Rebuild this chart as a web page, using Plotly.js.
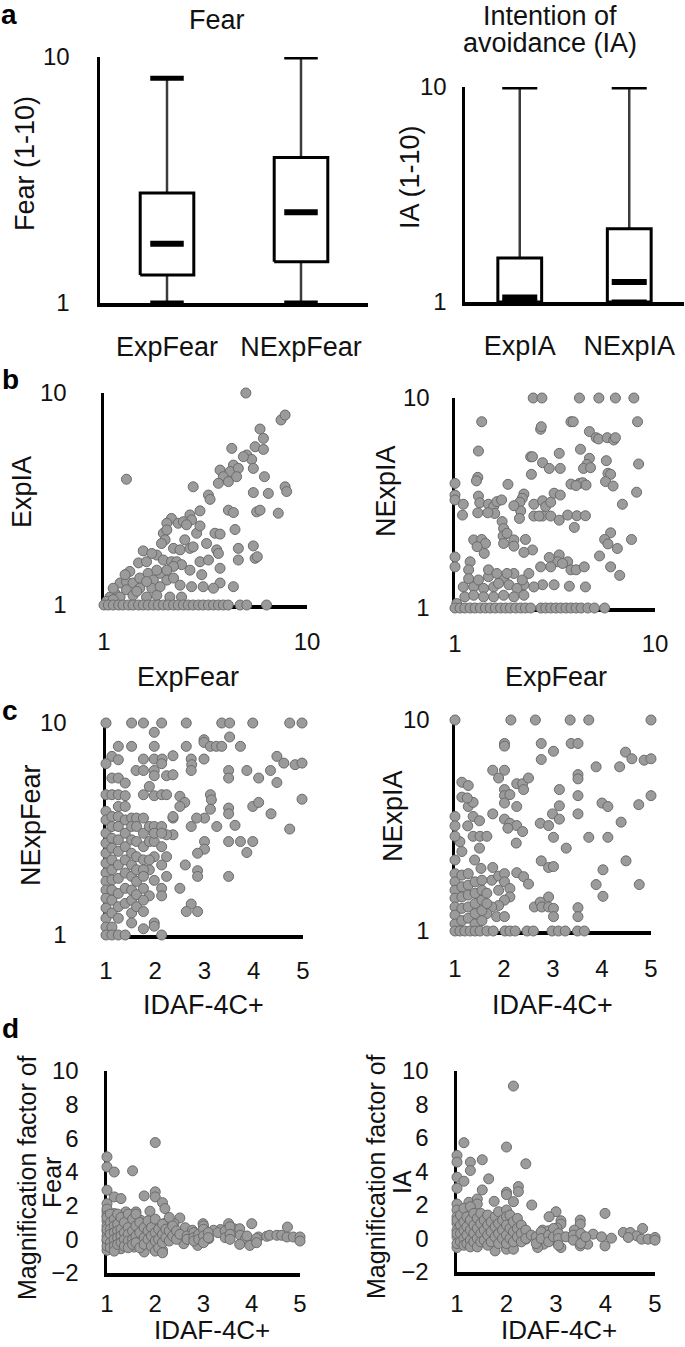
<!DOCTYPE html>
<html>
<head>
<meta charset="utf-8">
<script src="https://cdn.plot.ly/plotly-3.0.1.min.js"></script>
<style>html,body{margin:0;padding:0;background:#fff;}#chart{width:685px;height:1347px;}</style>
</head>
<body>
<div id="chart"></div>
<script>
// ---------------- DATA ----------------
// Panel a: box summaries (log scale 1-10)
const fearCats = ['ExpFear', 'NExpFear'];
const fearMin = [1, 1];
const fearQ1 = [1.30, 1.47];
const fearMedian = [1.74, 2.34];
const fearQ3 = [2.80, 3.90];
const fearMax = [8.2, 10];

const iaCats = ['ExpIA', 'NExpIA'];
const iaMin = [1, 1];
const iaQ1 = [1, 1];
const iaMedian = [1.05, 1.24];
const iaQ3 = [1.60, 2.19];
const iaMax = [10, 10];

// Panel b left: [ExpFear, ExpIA]
const expFearVsExpIA = [[5.0,10],[7.45,7.46],[7.8,7.87],[5.87,6.76],[6.1,6.11],[5.55,5.58],[6.1,5.42],[4.26,5.48],[5.05,5.1],[5.34,4.86],[4.86,5.01],[5.44,4.41],[4.34,4.57],[4.18,4.26],[4.59,4.41],[3.73,4.33],[3.87,4.03],[3.66,3.75],[4.1,3.82],[4.5,4.03],[6.17,4.03],[1.29,3.92],[2.75,3.61],[3.27,3.3],[3.33,3.15],[5.44,3.39],[6.45,3.36],[7.8,3.61],[7.94,3.43],[4.1,2.8],[4.34,2.73],[5.65,2.75],[5.87,2.8],[7.22,2.71],[2.97,2.78],[2.65,2.66],[2.7,2.52],[2.15,2.56],[2.04,2.43],[2.32,2.43],[2.46,2.47],[2.55,2.39],[2.86,2.18],[2.97,2.36],[4.42,2.27],[3.52,2.18],[3.73,2.16],[1.96,2.18],[2.04,2.26],[2.0,2.03],[1.92,1.95],[2.2,1.85],[2.37,1.82],[2.5,2.03],[2.65,1.85],[2.75,1.88],[3.2,1.95],[3.59,1.82],[3.66,1.75],[4.59,1.85],[5.44,1.9],[5.55,1.66],[5.69,1.69],[4.59,1.63],[1.56,1.8],[1.48,1.58],[1.62,1.6],[1.82,1.72],[1.96,1.63],[2.15,1.6],[2.28,1.6],[2.97,1.6],[3.27,1.63],[3.73,1.49],[3.03,1.39],[2.65,1.46],[2.41,1.55],[2.2,1.52],[3.73,1.27],[4.34,1.22],[3.46,1.2],[3.08,1.22],[2.7,1.22],[1.34,1.44],[1.2,1.27],[1.29,1.29],[1.39,1.27],[1.5,1.34],[1.65,1.41],[1.75,1.31],[1.89,1.41],[2.04,1.31],[2.2,1.34],[2.37,1.24],[1.72,1.2],[1.89,1.22],[1.5,1.2],[1.29,1.18],[1.13,1.14],[1.07,1.09],[1.2,1.09],[1.39,1.11],[1.62,1.09],[1.82,1.11],[2.11,1.09],[2.41,1.09],[1.62,1.29],[1.45,1.16],[1.27,1.39],[1.82,1.46],[2.04,1.46],[1.11,1.2],[1.03,1.04],[1.11,1.06],[1.72,1.75],
[1,1],[1.05,1],[1.11,1],[1.18,1],[1.24,1],[1.32,1],[1.39,1],[1.48,1],[1.56,1],[1.65,1],[1.75,1],[1.85,1],[1.96,1],[2.07,1],[2.2,1],[2.32,1],[2.46,1],[2.6,1],[2.75,1],[2.92,1],[3.08,1],[3.27,1],[3.46,1],[3.66,1],[3.87,1],[4.09,1],[4.68,1],[5.05,1],[6.32,1]];

// Panel b right: [ExpFear, NExpIA]
const expFearVsNExpIA = [[2.46,10],[2.72,10],[4.19,10],[5.24,10],[6.34,10],[7.84,10],[1.36,7.71],[2.68,7.1],[2.7,7.3],[3.8,7.71],[3.9,7.71],[8.18,7.71],[4.7,6.92],[5.08,6.47],[5.22,6.38],[5.77,6.47],[6.22,6.31],[6.34,6.47],[1.31,5.59],[2.39,5.25],[2.44,5.25],[3.32,5.45],[2.74,4.92],[2.96,4.62],[3.36,4.62],[4.24,5.7],[4.7,5.16],[4.57,4.83],[4.39,4.62],[4.76,4.66],[5.71,5.03],[8.28,4.85],[2.41,4.33],[1.3,4.19],[1.28,4.03],[5.82,4.38],[6.0,4.33],[5.66,4.0],[6.17,3.81],[3.8,3.89],[4.19,3.92],[4.35,3.95],[4.52,3.85],[4.03,3.83],[1,3.92],[1,3.45],[1,3.27],[1.84,3.88],[2.21,3.49],[2.17,3.33],[8.09,3.56],[1.1,3.12],[1.09,2.77],[1.31,3.41],[1.33,3.17],[1.3,2.84],[1.47,3.12],[1.56,3.04],[1.62,3.21],[1.71,3.27],[1.58,2.82],[1.46,2.84],[2.11,3.19],[2.13,2.9],[2.1,2.67],[1.97,3.07],[2.48,3.12],[2.74,3.24],[2.84,3.04],[3.01,3.19],[3.13,3.52],[3.36,3.45],[2.74,2.74],[3.01,2.74],[3.32,2.62],[3.66,2.77],[4.07,2.75],[4.49,2.75],[2.48,2.74],[2.63,2.74],[3.95,2.42],[6.87,3.12],[1.72,2.58],[1.75,2.39],[1.74,2.2],[1.82,2.27],[1.97,2.11],[2.25,2.12],[1.75,2.03],[1.97,1.97],[1.24,2.11],[1.36,2.12],[1.42,2.03],[1.4,1.82],[1.29,1.96],[1,1.75],[1,1.57],[1.19,1.66],[1.17,1.52],[2.44,1.89],[2.21,1.84],[3.32,1.79],[3.26,1.66],[2.96,1.74],[2.68,1.57],[3.01,1.57],[3.66,1.66],[3.45,1.63],[3.8,1.52],[4.03,1.52],[4.43,1.57],[6.0,2.28],[5.6,2.12],[5.82,2.02],[6.48,1.92],[7.63,2.12],[5.28,1.77],[6.0,1.57],[6.66,1.43],[3.73,1.27],[4.49,1.26],[3.13,1.29],[2.74,1.29],[2.21,1.29],[1.75,1.38],[1.1,1.26],[1.17,1.38],[1.24,1.26],[1.31,1.36],[1.39,1.24],[1.47,1.41],[1.56,1.26],[1.65,1.31],[1.86,1.29],[1.97,1.46],[2.04,1.24],[1.12,1.13],[1.24,1.15],[1.39,1.13],[1.56,1.13],[1.75,1.15],[1.97,1.13],[2.21,1.15],[2.48,1.26],[1.47,1.52],[1.62,1.46],[1.82,1.46],[2.17,1.36],[2.34,1.46],[1.02,1.05],
[1,1],[1.06,1],[1.12,1],[1.19,1],[1.26,1],[1.34,1],[1.42,1],[1.5,1],[1.59,1],[1.69,1],[1.79,1],[1.89,1],[2.01,1],[2.13,1],[2.25,1],[2.39,1],[2.69,1],[2.84,1],[3.01,1],[3.19,1],[3.38,1],[3.59,1],[3.8,1],[4.03,1],[4.27,1],[4.61,1],[4.98,1],[5.6,1]];

// Panel c left: [IDAF-4C+, NExpFear]
const idafVsNExpFear = [[1,10],[1.52,10],[1.76,10],[2.13,10],[2.63,10],[3.35,10],[3.51,10],[3.98,10],[4.73,10],[4.98,10],[1.98,9.04],[1.25,7.76],[1.52,7.76],[1.98,7.76],[2.63,7.76],[2.99,8.34],[2.99,8.1],[3.12,7.76],[3.24,7.76],[3.35,7.76],[3.51,8.59],[3.73,7.76],[1.12,6.96],[1,6.43],[1.25,6.71],[1.76,6.76],[1.98,6.76],[2.14,6.76],[2.13,6.43],[2.36,7.01],[2.73,6.76],[2.74,6.36],[2.73,5.97],[2.99,6.76],[4.47,6.96],[4.61,6.47],[4.84,6.36],[4.98,6.47],[1.61,5.97],[1.76,5.97],[1.98,5.97],[1.98,5.64],[2.23,5.64],[2.36,5.7],[1.12,5.5],[1.25,5.5],[1.39,5.21],[3.49,5.97],[3.49,5.5],[3.86,5.97],[4.1,5.5],[4.34,5.97],[4.47,5.24],[1,4.59],[1.12,4.59],[1.25,4.59],[1.39,4.54],[1.76,4.59],[1.88,5.02],[1.98,4.54],[2.13,4.59],[2.23,4.59],[2.5,4.51],[2.6,4.22],[2.5,4.04],[3.12,4.59],[3.14,4.34],[3.49,3.97],[3.49,3.73],[3.98,4.04],[4.1,4.22],[4.35,3.73],[4.73,3.16],[4.98,4.37],[3.12,3.92],[3.0,3.56],[2.84,3.56],[2.73,3.25],[3.25,3.25],[3.62,3.29],[2.36,3.56],[2.36,2.97],[2.23,2.97],[3.0,2.76],[3.0,2.54],[2.86,2.43],[2.86,2.01],[2.86,1.89],[2.61,2.14],[3.49,2.76],[3.73,2.76],[3.98,2.76],[3.86,2.45],[3.49,1.89],[2.5,1.66],[2.73,1.4],[2.63,1.29],[2.86,1.29],[1.98,2.34],[1.98,1.81],[2.13,1.66],[2.13,1.53],[2.23,1.89],[2.23,2.34],[1.88,2.03],[1.88,1.53],[1.76,1.07],[1.98,1.14],[1.98,1.1],[2.13,1],
[1,3.83],[1,3.49],[1,3.02],[1,2.71],[1,2.43],[1,2.18],[1,1.96],[1,1.79],[1,1.63],[1,1.49],[1,1.34],[1,1.2],[1,1.09],[1,1],
[1.12,3.62],[1.12,3.25],[1.12,2.86],[1.12,2.57],[1.12,2.26],[1.12,2.03],[1.12,1.82],[1.12,1.63],[1.12,1.46],[1.12,1.27],[1.12,1.09],[1.12,1],
[1.25,4.04],[1.25,3.62],[1.25,3.25],[1.25,2.81],[1.25,2.48],[1.25,2.14],[1.25,1.85],[1.25,1.57],[1.25,1.36],[1.25,1.2],[1.25,1],
[1.39,4.04],[1.39,3.49],[1.39,3.02],[1.39,2.61],[1.39,2.26],[1.39,1.96],[1.39,1.66],[1.39,1.41],[1.39,1],
[1.52,3.56],[1.52,3.25],[1.52,2.81],[1.52,2.43],[1.52,2.14],[1.52,1.89],[1.52,1.63],[1.52,1.46],[1.52,1.27],[1.52,1.14],
[1.62,3.56],[1.62,3.25],[1.62,2.76],[1.62,2.34],[1.62,2.03],[1.62,1.79],[1.62,1.55],[1.62,1.36],
[1.76,3.56],[1.76,3.02],[1.76,2.61],[1.76,2.26],[1.76,2.03],[1.76,1.89],[1.76,1.66],[1.76,1.46],[1.76,1.29],
[1.88,3.25],[1.88,2.76],[1.88,2.26],[1.98,3.25],[1.98,2.76],[1.98,3.02],[2.13,3.25],[2.13,3.02],[2.13,2.61],[2.13,2.14],[2.36,3.62]];

// Panel c right: [IDAF-4C+, NExpIA]
const idafVsNExpIA = [[1,10],[2.14,10],[2.64,10],[3.35,10],[3.73,10],[5,10],[2.01,7.74],[2.01,7.52],[2.76,7.74],[3.01,7.11],[3.37,7.74],[3.51,7.74],[2.76,6.5],[4.48,7.04],[4.61,6.55],[4.86,6.45],[5.0,6.55],[4.36,6.0],[3.88,6.0],[1.77,5.78],[1.89,5.31],[2.01,5.78],[3.51,5.51],[3.51,5.26],[1.14,5.07],[1.27,4.89],[1.14,4.31],[1.27,3.89],[1.37,4.07],[2.26,4.99],[2.38,4.99],[2.5,5.31],[2.4,4.68],[2.01,4.68],[2.01,4.38],[2.01,4.04],[2.12,4.43],[2.26,3.89],[3.13,4.68],[3.13,3.92],[2.99,3.59],[3.13,3.39],[3.51,4.38],[3.51,3.59],[4.0,4.04],[4.12,3.89],[4.75,3.97],[5.0,4.38],[2.74,3.24],[2.91,3.16],[3.01,2.78],[3.27,2.47],[3.73,2.78],[4.12,2.78],[4.39,3.28],[1.77,3.59],[2.01,3.39],[2.12,3.24],[2.26,3.16],[2.38,2.96],[2.08,3.07],[2.25,2.61],[2.76,2.15],[2.91,2.0],[3.01,2.02],[4.02,1.95],[4.49,2.15],[4.76,1.66],[3.88,1.66],[4.02,1.46],[1.25,4.27],[1.37,3.49],[1.5,3.33],[1.26,3.15],[1.37,2.81],[1.51,2.81],[1.65,2.81],[1.5,2.47],[1.4,2.17],[1.53,1.98],[1.1,2.65],[1.14,2.38],[1,3.49],[1,3.15],[1,2.81],[1,2.17],[1.77,2.0],[1.75,1.74],[1.89,1.82],[2.01,1.87],[2.01,1.71],[1.89,1.56],[2.12,1.59],[2.12,1.45],[2.01,1.4],[1.89,1.32],[2.26,1.89],[2.4,1.81],[2.5,1.67],[1.75,1.3],[1.65,1.21],[1.85,1.17],[2.01,1.17],[2.62,1.3],[2.74,1.37],[2.77,1.3],[2.91,1.45],[2.91,1.3],[3.01,1.28],[3.01,1.17],[3.51,1.29],[3.51,1.17],
[1,1.87],[1,1.71],[1,1.56],[1,1.43],[1,1.3],[1,1.19],[1,1.08],[1.14,1.84],[1.14,1.62],[1.14,1.45],[1.14,1.28],[1.14,1.12],[1.27,1.87],[1.27,1.65],[1.27,1.48],[1.27,1.3],[1.27,1.15],[1.41,1.71],[1.41,1.51],[1.41,1.35],[1.41,1.21],[1.41,1.08],[1.55,1.74],[1.55,1.56],[1.55,1.4],[1.55,1.25],[1.55,1.12],[1.65,1.51],[1.65,1.35],
[1,1],[1.1,1],[1.2,1],[1.31,1],[1.41,1],[1.51,1],[1.65,1],[1.78,1],[2.02,1],[2.12,1],[2.23,1],[2.47,1],[2.6,1],[2.98,1],[3.11,1],[3.25,1],[3.5,1],[3.64,1]];

// Panel d left: [IDAF-4C+, Magnification factor of Fear]
const idafVsMagFear = [[2.0,5.75],[1.0,4.9],[1.0,4.3],[1.15,4.0],[1.53,4.07],[1.0,2.92],[1.15,2.52],[1.29,2.42],[1.77,2.58],[2.0,2.82],[2.0,2.52],[2.15,2.18],[2.2,1.83],[1.89,1.67],[2.51,1.27],[1.0,2.12],[1.0,1.63],[1.15,1.53],[1.39,1.63],[1.6,1.63],[1.08,0.93],[1.29,0.93],[1.53,0.93],[1.7,1.13],[1.98,0.93],[2.18,0.93],[2.39,0.93],[2.99,0.93],[2.62,0.69],[2.77,0.54],[3.35,0.58],[3.52,0.93],[3.63,0.63],[3.75,0.63],[4.0,0.93],[3.21,0.54],[3.11,0.04],[3.76,0.24],[3.87,0.04],[4.14,0.14],[4.31,0.18],[4.37,0.24],[4.52,0.24],[4.62,0.24],[4.73,0.14],[4.74,0.73],[4.86,0.14],[5.0,0.14],[5.0,-0.1],[3.75,-0.3],[3.96,-0.36],[2.88,-0.36],[2.59,-0.26],[2.39,0.14],[2.11,-0.26],[1.98,0.04],[1.77,-0.75],[1.56,-0.46],[2.15,-0.65],[1.29,-0.56],[1.15,-0.26],[1.0,-0.65],
[1,1.8],[1,1.4],[1,1.1],[1,0.8],[1,0.5],[1,0.2],[1,-0.1],[1,-0.4],[1,0],[1,0.6],[1,1.3],[1.07,1.5],[1.07,1.0],[1.07,0.6],[1.07,0.3],[1.07,-0.2],[1.07,-0.5],[1.15,1.2],[1.15,0.8],[1.15,0.4],[1.15,0],[1.15,-0.4],[1.15,-0.7],[1.22,1.5],[1.22,0.9],[1.22,0.5],[1.22,0.1],[1.22,-0.3],[1.29,1.3],[1.29,0.6],[1.29,0.2],[1.29,-0.2],[1.36,1.0],[1.36,0.4],[1.36,0],[1.36,-0.4],[1.44,1.5],[1.44,0.7],[1.44,0.3],[1.44,-0.1],[1.44,-0.5],[1.53,1.2],[1.53,0.5],[1.53,0],[1.53,-0.3],[1.6,1.5],[1.6,0.8],[1.6,0.2],[1.6,-0.2],[1.68,1.0],[1.68,0.4],[1.68,-0.5],[1.77,0.7],[1.77,0.1],[1.77,-0.3],[1.85,1.1],[1.85,0.5],[1.85,0],[1.92,0.7],[1.92,0.2],[1.92,-0.4],[2.0,1.2],[2.0,0.4],[2.0,-0.1],[2.0,-0.7],[2.07,0.6],[2.07,0],[2.07,-0.5],[2.15,0.9],[2.15,0.3],[2.15,-0.2],[2.15,-0.8],[2.22,0.6],[2.22,0.1],[2.29,1.3],[2.29,0.5],[2.29,-0.1],[2.36,0.8],[2.36,0.2],[2.44,0.5],[2.44,0],[2.51,0.3],[2.66,0.2],[2.66,0],[2.8,0.4],[2.8,0.1],[2.8,-0.1],[2.9,0.3],[2.9,0],[3.0,0.8],[3.0,0.6],[3.0,0.2],[3.0,-0.2],[3.1,0.4],[3.1,0.1],[3.3,0.4],[3.45,0.5],[3.45,0.1],[3.55,0.75],[3.55,0.3],[3.55,0],[3.9,0.2],[4.1,0.05],[4.1,-0.2]];

// Panel d right: [IDAF-4C+, Magnification factor of IA]
const idafVsMagIA = [[2.14,9.1],[1.14,5.72],[2.0,5.46],[1.0,4.96],[1.0,4.56],[1.27,4.56],[1.27,4.06],[1.51,4.7],[2.39,4.46],[1.0,3.66],[1.14,3.42],[1.0,3.0],[1.64,3.56],[1.51,2.9],[2.24,3.1],[2.24,2.8],[2.0,2.76],[2.0,2.62],[2.14,2.2],[2.51,2.0],[1.75,2.22],[1.0,2.06],[1.24,2.16],[1.41,2.36],[1.41,2.06],[3.0,1.6],[3.1,1.06],[3.1,0.86],[3.49,1.1],[3.49,0.86],[3.99,1.5],[2.86,1.3],[2.73,0.5],[2.85,0.46],[3.02,0.62],[3.37,0.5],[3.75,0.26],[3.92,0.1],[4.12,0.02],[4.36,0.36],[4.5,0.36],[4.63,0.16],[4.73,-0.04],[4.86,-0.04],[5.0,0.06],[5.0,-0.1],[4.46,0.06],[4.75,0.6],[2.19,-0.18],[2.39,-0.04],[2.63,-0.18],[2.75,-0.34],[3.0,-0.18],[3.1,-0.54],[3.49,-0.44],[3.49,-0.04],[3.64,-0.34],[3.99,-0.44],[2.63,-0.54],[1.77,-0.74],[2.0,-0.64],[2.14,-0.64],[1.0,-0.54],
[1,1.7],[1,1.3],[1,0.9],[1,0.5],[1,0.1],[1,-0.3],[1,0.3],[1,1.1],[1.07,1.4],[1.07,0.8],[1.07,0.3],[1.07,-0.2],[1.14,1.8],[1.14,1.0],[1.14,0.5],[1.14,0],[1.14,-0.4],[1.2,1.3],[1.2,0.7],[1.2,0.2],[1.2,-0.3],[1.27,1.9],[1.27,1.1],[1.27,0.5],[1.27,-0.1],[1.27,-0.5],[1.34,1.5],[1.34,0.8],[1.34,0.3],[1.34,-0.2],[1.41,1.2],[1.41,0.6],[1.41,0],[1.41,-0.5],[1.48,1.5],[1.48,0.9],[1.48,0.3],[1.48,-0.2],[1.55,1.1],[1.55,0.5],[1.55,-0.1],[1.62,1.4],[1.62,0.8],[1.62,0.2],[1.62,-0.4],[1.69,1.0],[1.69,0.4],[1.69,-0.2],[1.77,1.3],[1.77,0.7],[1.77,0.1],[1.84,1.6],[1.84,0.9],[1.84,0.3],[1.84,-0.3],[1.92,1.1],[1.92,0.5],[1.92,0],[2.0,1.7],[2.0,1.3],[2.0,0.8],[2.0,0.2],[2.0,-0.3],[2.07,1.4],[2.07,0.6],[2.07,0],[2.14,1.0],[2.14,0.4],[2.14,-0.2],[2.22,1.2],[2.22,0.6],[2.22,0.1],[2.3,0.8],[2.3,0.3],[2.3,-0.2],[2.39,0.5],[2.39,0],[2.5,0.2],[2.6,0.1],[2.6,-0.3],[2.7,0.4],[2.7,0],[2.85,0.2],[2.85,-0.2],[2.95,0.6],[2.95,0.1],[3.05,0.3],[3.05,0],[3.05,-0.4],[3.2,0.1],[3.35,0.2],[3.35,-0.1],[3.5,0.3],[3.5,-0.3],[3.6,0.1]];

const logTickVals = [1, 10];
const logTickText = ['1', '10'];
const idafTicks = [1, 2, 3, 4, 5];
const magTicks = [-2, 0, 2, 4, 6, 8, 10];

// ---------------- STYLE / LAYOUT ----------------
const W = 685, H = 1347;
const FONT = 'Liberation Sans, Arial, sans-serif';
const fx = p => p / W;
const fy = p => 1 - p / H;

const markerStyle = {size: 10, color: '#9b9b9b', line: {color: '#6b6b6b', width: 1}};

function scatterTrace(pairs, xa, ya) {
  return {
    type: 'scatter', mode: 'markers',
    x: pairs.map(p => p[0]), y: pairs.map(p => p[1]),
    xaxis: xa, yaxis: ya, marker: markerStyle,
    cliponaxis: false, hoverinfo: 'x+y', showlegend: false
  };
}

function boxTraces(cats, mn, q1, med, q3, mx, xa, ya, bw, cw) {
  const wx = [], wy = [], bx = [], by = [], mdx = [], mdy = [], cx = [], cy = [];
  cats.forEach((c, i) => {
    wx.push(i, i, null); wy.push(mn[i], mx[i], null);
    bx.push(i - bw, i + bw, i + bw, i - bw, i - bw, null);
    by.push(q1[i], q1[i], q3[i], q3[i], q1[i], null);
    mdx.push(i - cw, i + cw, null); mdy.push(med[i], med[i], null);
    cx.push(i - cw, i + cw, null, i - cw, i + cw, null);
    cy.push(mn[i], mn[i], null, mx[i], mx[i], null);
  });
  const base = {type: 'scatter', mode: 'lines', xaxis: xa, yaxis: ya, cliponaxis: false, hoverinfo: 'skip', showlegend: false};
  return [
    Object.assign({}, base, {x: wx, y: wy, line: {color: '#3c3c3c', width: 2.5}}),
    Object.assign({}, base, {x: bx, y: by, fill: 'toself', fillcolor: '#ffffff', line: {color: '#000', width: 3}}),
    Object.assign({}, base, {x: mdx, y: mdy, line: {color: '#000', width: 6}}),
    Object.assign({}, base, {x: cx, y: cy, line: {color: '#000', width: 5}})
  ];
}

function axis(opts) {
  return Object.assign({
    showline: true, linecolor: '#000', linewidth: 3.5, showgrid: false, zeroline: false,
    ticks: '', layer: 'below traces', fixedrange: true,
    tickfont: {family: FONT, size: 24, color: '#111'}
  }, opts);
}

const traces = [].concat(
  boxTraces(fearCats, fearMin, fearQ1, fearMedian, fearQ3, fearMax, 'x', 'y', 0.2, 0.125),
  boxTraces(iaCats, iaMin, iaQ1, iaMedian, iaQ3, iaMax, 'x2', 'y2', 0.2, 0.16),
  [scatterTrace(expFearVsExpIA, 'x3', 'y3'),
   scatterTrace(expFearVsNExpIA, 'x4', 'y4'),
   scatterTrace(idafVsNExpFear, 'x5', 'y5'),
   scatterTrace(idafVsNExpIA, 'x6', 'y6'),
   scatterTrace(idafVsMagFear, 'x7', 'y7'),
   scatterTrace(idafVsMagIA, 'x8', 'y8')]
);

const logAx = (dom, anchor, so) => axis({domain: dom, anchor: anchor, type: 'log', range: [0, 1], tickmode: 'array', tickvals: logTickVals, ticktext: logTickText, ticklabelstandoff: so});
const idafX = (dom, anchor, so) => axis({domain: dom, anchor: anchor, range: [1, 5], tickmode: 'array', tickvals: idafTicks, ticklabelstandoff: so});
const catX = (dom, anchor, cats) => axis({domain: dom, anchor: anchor, range: [-0.5, 1.5], tickmode: 'array', tickvals: [0, 1], ticktext: cats, ticklabelstandoff: 17, tickfont: {family: FONT, size: 27, color: '#111'}});

function ann(text, px, py, o) {
  return Object.assign({
    text: text, x: fx(px), y: fy(py), xref: 'paper', yref: 'paper',
    xanchor: 'center', yanchor: 'middle', showarrow: false,
    font: {family: FONT, size: 27, color: '#111'}
  }, o || {});
}
const rot = {textangle: -90};
const rotSmall = {textangle: -90, font: {family: FONT, size: 25, color: '#111'}};
const bold = {font: {family: FONT, size: 28, color: '#000', weight: 'bold'}};
const bottomTitle = {font: {family: FONT, size: 26, color: '#111'}};

const layout = {
  width: W, height: H, margin: {l: 0, r: 0, t: 0, b: 0},
  paper_bgcolor: '#fff', plot_bgcolor: 'rgba(0,0,0,0)', showlegend: false,
  font: {family: FONT, size: 24, color: '#111'},
  xaxis: catX([fx(100), fx(368)], 'y', fearCats),
  yaxis: logAx([fy(303), fy(57)], 'x', 22),
  xaxis2: catX([fx(465), fx(684)], 'y2', iaCats),
  yaxis2: logAx([fy(302), fy(87)], 'x2', 10),
  xaxis3: logAx([fx(104), fx(307)], 'y3', 13),
  yaxis3: logAx([fy(605), fy(393)], 'x3', 29),
  xaxis4: logAx([fx(455), fx(655)], 'y4', 12),
  yaxis4: logAx([fy(608), fy(398)], 'x4', 17),
  xaxis5: idafX([fx(106), fx(303)], 'y5', 12),
  yaxis5: logAx([fy(935), fy(723)], 'x5', 31),
  xaxis6: idafX([fx(455), fx(651)], 'y6', 14),
  yaxis6: logAx([fy(931), fy(720)], 'x6', 17),
  xaxis7: idafX([fx(107), fx(300)], 'y7', 7),
  yaxis7: axis({domain: [fy(1273), fy(1071)], anchor: 'x7', range: [-2, 10], tickmode: 'array', tickvals: magTicks, ticklabelstandoff: 20}),
  xaxis8: idafX([fx(457), fx(655)], 'y8', 8),
  yaxis8: axis({domain: [fy(1272), fy(1071)], anchor: 'x8', range: [-2, 10], tickmode: 'array', tickvals: magTicks, ticklabelstandoff: 20}),
  annotations: [
    ann('a', 9, 14, bold), ann('b', 10, 380, bold), ann('c', 10, 710, bold), ann('d', 10, 1028, bold),
    ann('Fear', 217, 20),
    ann('Intention of', 550, 16), ann('avoidance (IA)', 550, 43),
    ann('Fear (1-10)', 25, 164, rot),
    ann('IA (1-10)', 410, 177, rot),
    ann('ExpIA', 22, 492, rot),
    ann('NExpIA', 386, 491, rot),
    ann('ExpFear', 188, 677), ann('ExpFear', 556, 677),
    ann('NExpFear', 31, 825, rot),
    ann('NExpIA', 393, 816, rot),
    ann('IDAF-4C+', 203, 1005), ann('IDAF-4C+', 552, 1005),
    ann('Magnification factor of', 27, 1178, rotSmall), ann('Fear', 52, 1183, rotSmall),
    ann('Magnification factor of', 376, 1177, rotSmall), ann('IA', 402, 1182, rotSmall),
    ann('IDAF-4C+', 212, 1330, bottomTitle), ann('IDAF-4C+', 559, 1330, bottomTitle)
  ]
};

Plotly.newPlot('chart', traces, layout, {displayModeBar: false, staticPlot: true});
</script>
</body>
</html>
